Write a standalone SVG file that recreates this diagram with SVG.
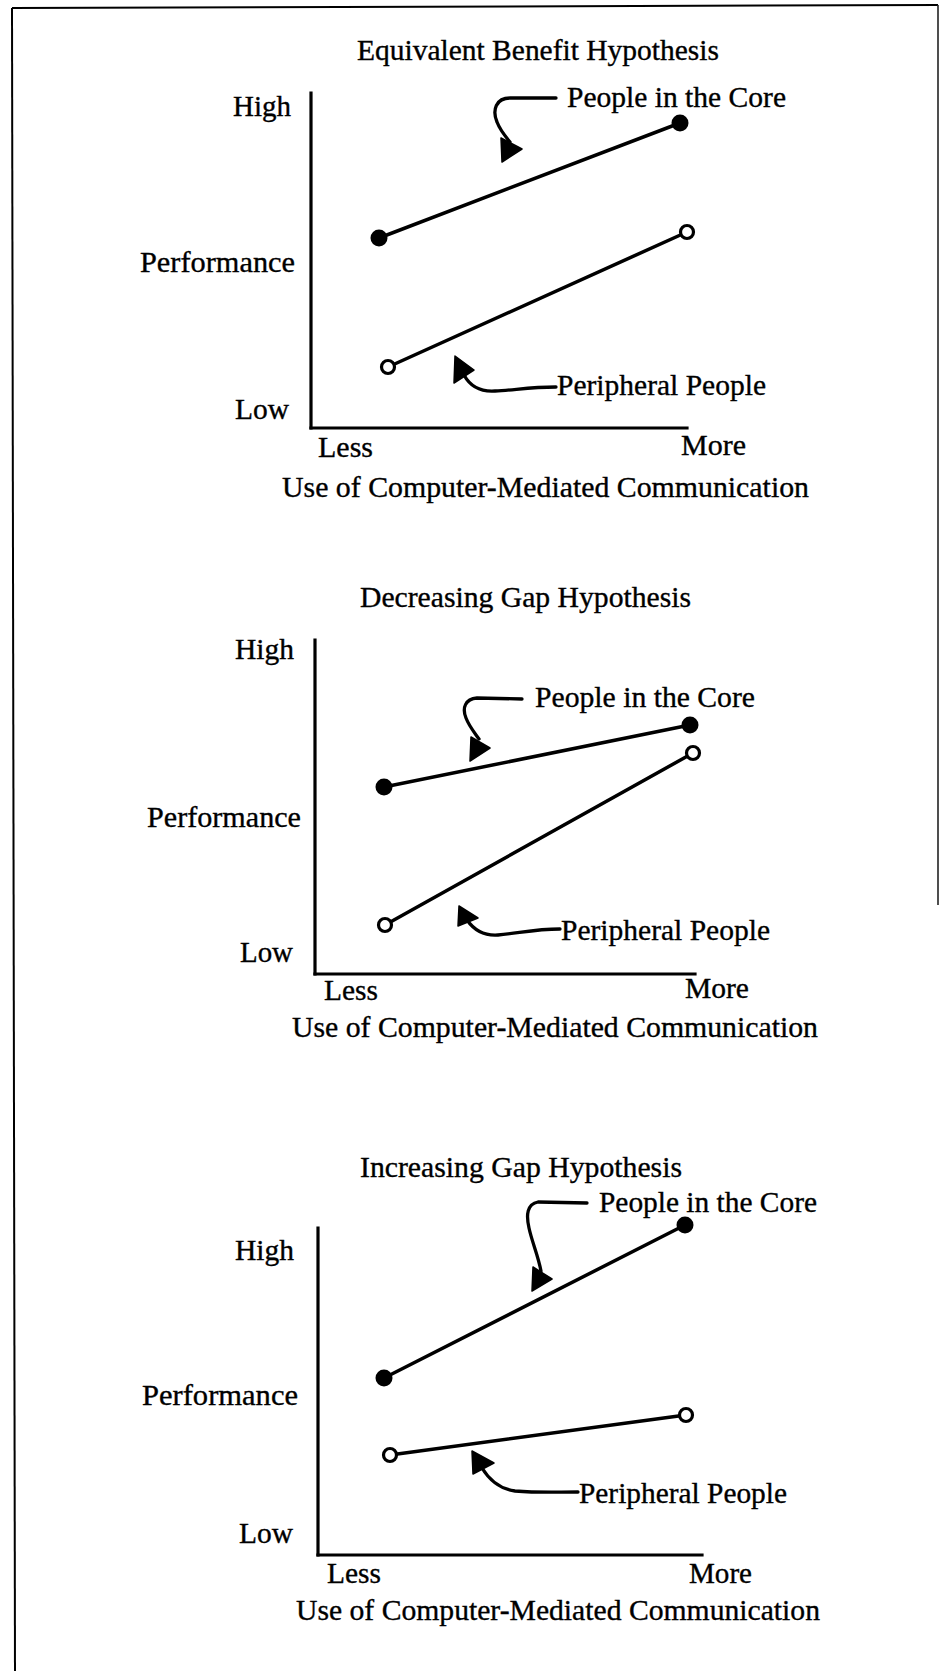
<svg xmlns="http://www.w3.org/2000/svg" width="940" height="1671" viewBox="0 0 940 1671">
<style>
text{font-family:"Liberation Serif","Times New Roman",serif;font-size:29px;fill:#000;stroke:#000;stroke-width:0.35}
.ax{stroke:#000;stroke-width:3.2;fill:none;stroke-linecap:square}
.dl{stroke:#000;stroke-width:3.5;fill:none;stroke-linecap:round}
.ld{stroke:#000;stroke-width:3.3;fill:none;stroke-linecap:round}
.fd{fill:#000}
.od{fill:#fff;stroke:#000;stroke-width:3.2}
.ah{fill:#000;stroke:#000;stroke-width:1.5;stroke-linejoin:round}
.bd{stroke:#000;stroke-width:2;fill:none}
</style>
<rect width="940" height="1671" fill="#fff"/>
<g id="frame">
<line class="bd" x1="12" y1="8" x2="938" y2="5"/>
<line class="bd" x1="12" y1="8" x2="15" y2="1671"/>
<line x1="938" y1="5" x2="938" y2="905" stroke="#222" stroke-width="1.6"/>
</g>

<g id="panel-equivalent">
<text x="357" y="60" textLength="362" lengthAdjust="spacingAndGlyphs">Equivalent Benefit Hypothesis</text>
<line class="ax" x1="311" y1="93" x2="311" y2="428"/>
<line class="ax" x1="311" y1="428" x2="687" y2="428"/>
<text x="233" y="116" textLength="58" lengthAdjust="spacingAndGlyphs">High</text>
<text x="140" y="272" textLength="155" lengthAdjust="spacingAndGlyphs">Performance</text>
<text x="235" y="419" textLength="54" lengthAdjust="spacingAndGlyphs">Low</text>
<text x="318" y="457" textLength="55" lengthAdjust="spacingAndGlyphs">Less</text>
<text x="681" y="455" textLength="65" lengthAdjust="spacingAndGlyphs">More</text>
<text x="282" y="497" textLength="527" lengthAdjust="spacingAndGlyphs">Use of Computer-Mediated Communication</text>
<g id="eq-core"><text x="567" y="107" textLength="219" lengthAdjust="spacingAndGlyphs">People in the Core</text></g>
<g id="eq-periph"><text x="557" y="395" textLength="209" lengthAdjust="spacingAndGlyphs">Peripheral People</text></g>
</g>

<g id="panel-decreasing">
<text x="360" y="607" textLength="331" lengthAdjust="spacingAndGlyphs">Decreasing Gap Hypothesis</text>
<line class="ax" x1="315" y1="640" x2="315" y2="974"/>
<line class="ax" x1="315" y1="974" x2="695" y2="974"/>
<text x="235" y="659" textLength="59" lengthAdjust="spacingAndGlyphs">High</text>
<text x="147" y="827" textLength="154" lengthAdjust="spacingAndGlyphs">Performance</text>
<text x="240" y="962" textLength="53" lengthAdjust="spacingAndGlyphs">Low</text>
<text x="324" y="1000" textLength="54" lengthAdjust="spacingAndGlyphs">Less</text>
<text x="685" y="998" textLength="64" lengthAdjust="spacingAndGlyphs">More</text>
<text x="292" y="1037" textLength="526" lengthAdjust="spacingAndGlyphs">Use of Computer-Mediated Communication</text>
<g id="dec-core"><text x="535" y="707" textLength="220" lengthAdjust="spacingAndGlyphs">People in the Core</text></g>
<g id="dec-periph"><text x="561" y="940" textLength="209" lengthAdjust="spacingAndGlyphs">Peripheral People</text></g>
</g>

<g id="panel-increasing">
<text x="360" y="1177" textLength="322" lengthAdjust="spacingAndGlyphs">Increasing Gap Hypothesis</text>
<line class="ax" x1="318" y1="1228" x2="318" y2="1555"/>
<line class="ax" x1="318" y1="1555" x2="702" y2="1555"/>
<text x="235" y="1260" textLength="59" lengthAdjust="spacingAndGlyphs">High</text>
<text x="142" y="1405" textLength="156" lengthAdjust="spacingAndGlyphs">Performance</text>
<text x="239" y="1543" textLength="54" lengthAdjust="spacingAndGlyphs">Low</text>
<text x="327" y="1583" textLength="54" lengthAdjust="spacingAndGlyphs">Less</text>
<text x="689" y="1583" textLength="63" lengthAdjust="spacingAndGlyphs">More</text>
<text x="296" y="1620" textLength="524" lengthAdjust="spacingAndGlyphs">Use of Computer-Mediated Communication</text>
<g id="inc-core"><text x="599" y="1212" textLength="218" lengthAdjust="spacingAndGlyphs">People in the Core</text></g>
<g id="inc-periph"><text x="579" y="1503" textLength="208" lengthAdjust="spacingAndGlyphs">Peripheral People</text></g>
</g>

<g id="connectors">
<line class="dl" x1="379" y1="238" x2="680" y2="123"/>
<line class="dl" x1="388" y1="367" x2="687" y2="232"/>
<line class="dl" x1="384" y1="787" x2="690" y2="725"/>
<line class="dl" x1="385" y1="925" x2="693" y2="753"/>
<line class="dl" x1="384" y1="1378" x2="685" y2="1225"/>
<line class="dl" x1="390" y1="1455" x2="686" y2="1415"/>

<path class="ld" d="M 556 98 L 510 98 C 496 98, 492 110, 497 122 C 500 130, 505 136, 510 142"/>
<polygon class="ah" points="502,162 501,138 522,149"/>
<path class="ld" d="M 464 375 C 470 386, 480 392, 495 391 C 515 390, 530 387, 556 387"/>
<polygon class="ah" points="455,356 454,383 474,370"/>

<path class="ld" d="M 522 699 L 477 698 C 465 699, 462 708, 466 718 C 469 726, 474 732, 479 739"/>
<polygon class="ah" points="470,761 471,737 490,748"/>
<path class="ld" d="M 467 920 C 474 930, 484 936, 498 935 C 520 933, 535 929, 560 929"/>
<polygon class="ah" points="459,906 458,926 478,918"/>

<path class="ld" d="M 587 1203 L 538 1202 C 527 1204, 526 1215, 529 1228 C 532 1242, 538 1255, 541 1271"/>
<polygon class="ah" points="532,1291 533,1267 552,1279"/>
<path class="ld" d="M 482 1468 C 490 1481, 500 1489, 515 1491 C 540 1493, 555 1492, 578 1492"/>
<polygon class="ah" points="472,1451 473,1474 494,1463"/>
</g>

<g id="markers">
<circle class="fd" cx="379" cy="238" r="8.5"/>
<circle class="fd" cx="680" cy="123" r="8.5"/>
<circle class="od" cx="388" cy="367" r="6.5"/>
<circle class="od" cx="687" cy="232" r="6.5"/>
<circle class="fd" cx="384" cy="787" r="8.5"/>
<circle class="fd" cx="690" cy="725" r="8.5"/>
<circle class="od" cx="385" cy="925" r="6.5"/>
<circle class="od" cx="693" cy="753" r="6.5"/>
<circle class="fd" cx="384" cy="1378" r="8.5"/>
<circle class="fd" cx="685" cy="1225" r="8.5"/>
<circle class="od" cx="390" cy="1455" r="6.5"/>
<circle class="od" cx="686" cy="1415" r="6.5"/>
</g>
</svg>
